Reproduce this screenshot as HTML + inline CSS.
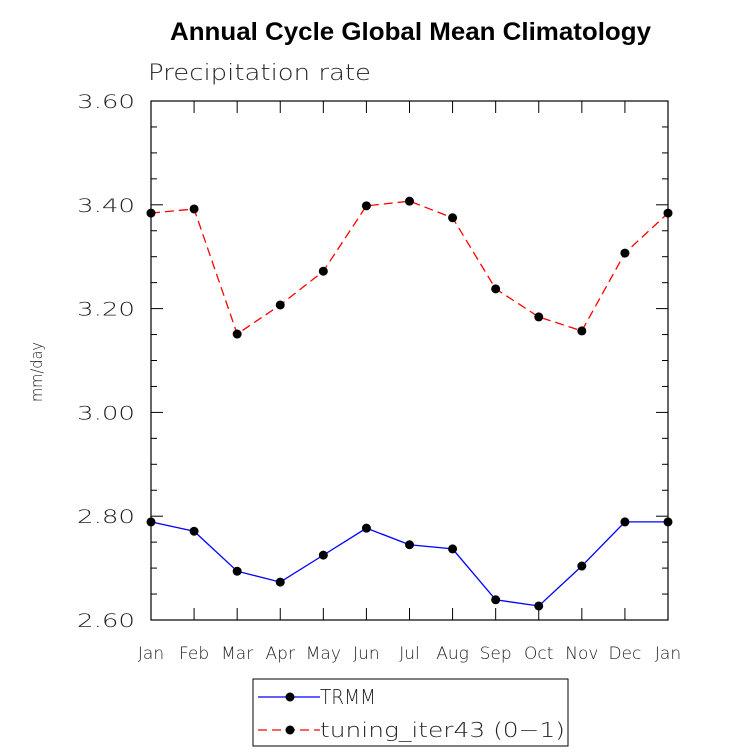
<!DOCTYPE html>
<html><head><meta charset="utf-8"><style>
body{margin:0;background:#fff;}
svg{display:block;font-family:"DejaVu Sans","Liberation Sans",sans-serif;}
.lt{font-weight:200;fill:#222;}
</style></head><body>
<svg id="chart" width="733" height="754">
<text x="170" y="40" font-size="25" font-weight="bold" textLength="481" lengthAdjust="spacingAndGlyphs" font-family="Liberation Sans">Annual Cycle Global Mean Climatology</text>
<text class="lt" x="148" y="80" font-size="22" textLength="223" lengthAdjust="spacingAndGlyphs">Precipitation rate</text>
<text class="lt" transform="translate(42,402) rotate(-90)" font-size="16" textLength="60" lengthAdjust="spacingAndGlyphs">mm/day</text>
<g id="axes"></g><g id="series"></g>
<g>
<rect x="253" y="679" width="315" height="67" fill="none" stroke="#000"/>
<g>
<line x1="258" y1="697" x2="320" y2="697" stroke="#0000ff" stroke-width="1.3"/><circle cx="290" cy="697" r="4.5"/>
<text class="lt" x="320" y="704" font-size="20" textLength="56" lengthAdjust="spacingAndGlyphs">TRMM</text></g>
<g>
<line x1="258" y1="730" x2="320" y2="730" stroke="#ff0000" stroke-width="1.3" stroke-dasharray="9,5"/><circle cx="290" cy="730" r="4.5"/>
<text class="lt" x="320" y="737" font-size="20" textLength="245" lengthAdjust="spacingAndGlyphs">tuning_iter43 (0−1)</text></g>
</g>
</svg>
<script>
const months=["Jan","Feb","Mar","Apr","May","Jun","Jul","Aug","Sep","Oct","Nov","Dec","Jan"];
const trmm=[2.789,2.771,2.694,2.673,2.725,2.777,2.745,2.737,2.639,2.627,2.704,2.789,2.789];
const tuning=[3.384,3.392,3.151,3.207,3.272,3.398,3.407,3.375,3.238,3.184,3.157,3.307,3.384];
const yTicks=[2.6,2.8,3.0,3.2,3.4,3.6];
const yLabels=["2.60","2.80","3.00","3.20","3.40","3.60"];
const NS="http://www.w3.org/2000/svg";
const X0=151,X1=668,Y0=620,Y1=101,VMIN=2.6,VMAX=3.6;
const xs=i=>X0+(X1-X0)*i/(months.length-1);
const ys=v=>Y0-(v-VMIN)/(VMAX-VMIN)*(Y0-Y1);
function mk(t,a,p){const e=document.createElementNS(NS,t);for(const k in a)e.setAttribute(k,a[k]);p.appendChild(e);return e;}
const ax=document.getElementById('axes');
const fr=mk('rect',{x:X0,y:Y1,width:X1-X0,height:Y0-Y1,fill:'none',stroke:'#000','stroke-width':1.2},ax);


for(let v=VMIN;v<=VMAX+1e-9;v+=0.05){
  const y=ys(v);const maj=Math.abs(Math.round(v*5)-v*5)<1e-6;const L=maj?12:6;
  mk('line',{x1:X0,x2:X0+L,y1:y,y2:y,stroke:'#000'},ax);
  mk('line',{x1:X1,x2:X1-L,y1:y,y2:y,stroke:'#000'},ax);
}
yTicks.forEach((v,i)=>{const t=mk('text',{x:77,y:ys(v)+7,'font-size':19,'class':'lt',textLength:58,lengthAdjust:'spacingAndGlyphs'},ax);t.textContent=yLabels[i];

});
months.forEach((m,i)=>{const x=xs(i);
  mk('line',{x1:x,x2:x,y1:Y0,y2:Y0-12,stroke:'#000'},ax);
  mk('line',{x1:x,x2:x,y1:Y1,y2:Y1+12,stroke:'#000'},ax);
  const t=mk('text',{x:x,y:Y0+39,'text-anchor':'middle','font-size':17,'class':'lt'},ax);t.textContent=m;
  
  });
const sg=document.getElementById('series');
function series(vals,col,dash,name){
  const g=mk('g',{},sg);
  
  
  mk('polyline',{points:vals.map((v,i)=>xs(i)+','+ys(v)).join(' '),fill:'none',stroke:col,'stroke-width':1.3,'stroke-dasharray':dash},g);
  vals.forEach((v,i)=>{const c=mk('circle',{cx:xs(i),cy:ys(v),r:4.5,fill:'#000'},g);
    
    });
}
series(trmm,'#0000ff','none','trmm-series');
series(tuning,'#ff0000','9,5','tuning-series');
</script>
</body></html>
